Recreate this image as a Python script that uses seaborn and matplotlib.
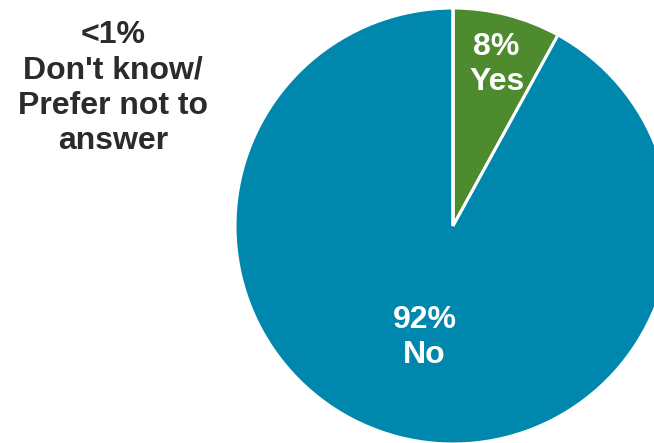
import matplotlib
matplotlib.use("Agg")
import matplotlib.pyplot as plt
import seaborn as sns

sns.set_theme(style="white")
plt.rcParams['font.family'] = ['Liberation Sans', 'DejaVu Sans']

categories = ["Yes", "No", "Don't know/\nPrefer not to\nanswer"]
values = [8, 92, 0]
pct_labels = ["8%", "92%", "<1%"]
colors = ["#4E8B2F", "#0087AD", "#0087AD"]

W, H = 654, 443
fig = plt.figure(figsize=(W / 100, H / 100), dpi=100)
cx, cy, r = 453, 226, 218
ax = fig.add_axes([(cx - r) / W, (H - cy - r) / H, 2 * r / W, 2 * r / H])
wedges, _ = ax.pie(values, colors=colors, startangle=90, counterclock=False,
                   radius=1, wedgeprops=dict(edgecolor="white", linewidth=2.2))
for w in wedges:
    w.set_clip_on(False)
ax.set_xlim(-1, 1)
ax.set_ylim(-1, 1)
ax.set_aspect("equal")
ax.axis("off")

ax.text(0.20, 0.74, f"{pct_labels[0]}\n{categories[0]}", ha="center", va="center",
        color="white", fontsize=23, fontweight="bold", linespacing=1.22)
ax.text(-0.13, -0.51, f"{pct_labels[1]}\n{categories[1]}", ha="center", va="center",
        color="white", fontsize=23, fontweight="bold", linespacing=1.22)
fig.text(113 / W, 1 - 88 / H, f"{pct_labels[2]}\n{categories[2]}", ha="center", va="center",
         color="#2B2B2B", fontsize=23, fontweight="bold", linespacing=1.22)

fig.savefig("out.png", dpi=100)
